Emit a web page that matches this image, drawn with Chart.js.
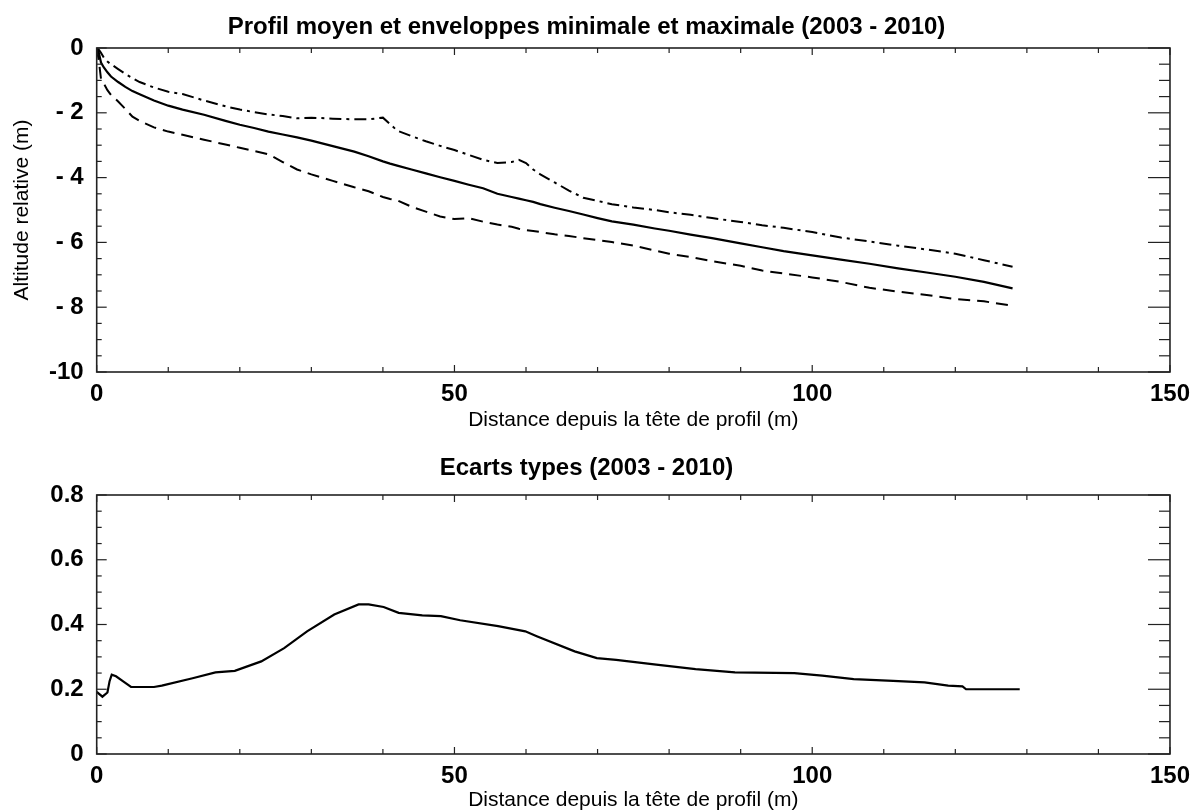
<!DOCTYPE html>
<html>
<head>
<meta charset="utf-8">
<script src="https://cdn.jsdelivr.net/npm/chart.js@4/dist/chart.umd.min.js"></script>
<style>
  html, body { margin: 0; padding: 0; background: #fff; }
  canvas { display: block; }
</style>
</head>
<body>
<canvas id="profil" width="1198" height="444"></canvas>
<canvas id="ecarts" width="1198" height="368"></canvas>
<script>
// distances (m) le long du profil
const distances = [0, 0.3, 0.6, 1, 1.5, 2, 3, 4, 5, 6, 8, 10, 12, 15, 18, 20, 22, 24, 26, 28,
  30, 33, 36, 38, 40, 41, 42, 44, 46, 48, 50, 52, 54, 56, 58, 59, 60, 61, 62, 64,
  66, 68, 70, 72, 75, 78, 80, 83, 86, 90, 93, 96, 100, 104, 108, 112, 116, 120, 124, 128];

// profil moyen (trait plein)
const profilMoyen = [0, -0.15, -0.45, -0.6, -0.75, -0.88, -1.05, -1.2, -1.33, -1.43, -1.62, -1.78, -1.9, -2.06, -2.25, -2.37, -2.47, -2.58, -2.67, -2.76,
  -2.86, -3.03, -3.2, -3.34, -3.5, -3.57, -3.63, -3.75, -3.87, -3.99, -4.1, -4.22, -4.33, -4.5, -4.6, -4.65, -4.7, -4.75, -4.82, -4.93,
  -5.03, -5.14, -5.25, -5.35, -5.45, -5.57, -5.64, -5.76, -5.87, -6.03, -6.15, -6.27, -6.4, -6.53, -6.66, -6.8, -6.93, -7.06, -7.22, -7.42];

// enveloppe maximale (tiret-point)
const enveloppeMax = [0, -0.05, -0.15, -0.3, -0.42, -0.5, -0.65, -0.8, -0.93, -1.05, -1.22, -1.35, -1.42, -1.62, -1.8, -1.9, -1.98, -2.05, -2.1, -2.17,
  -2.15, -2.18, -2.2, -2.2, -2.15, -2.35, -2.55, -2.72, -2.88, -3.02, -3.15, -3.3, -3.45, -3.55, -3.52, -3.45, -3.55, -3.75, -3.9, -4.15,
  -4.4, -4.62, -4.72, -4.82, -4.92, -5.0, -5.07, -5.15, -5.25, -5.37, -5.47, -5.55, -5.68, -5.85, -5.97, -6.1, -6.22, -6.35, -6.55, -6.75];

// enveloppe minimale (tirets)
const enveloppeMin = [0, -0.4, -0.95, -1.1, -1.3, -1.45, -1.65, -1.88, -2.12, -2.25, -2.45, -2.58, -2.68, -2.83, -2.98, -3.08, -3.18, -3.28, -3.52, -3.75,
  -3.9, -4.1, -4.3, -4.42, -4.6, -4.66, -4.7, -4.9, -5.05, -5.2, -5.28, -5.25, -5.36, -5.45, -5.52, -5.58, -5.62, -5.65, -5.68, -5.75,
  -5.8, -5.87, -5.93, -5.99, -6.1, -6.25, -6.35, -6.45, -6.58, -6.72, -6.87, -6.96, -7.08, -7.22, -7.4, -7.52, -7.62, -7.75, -7.82, -7.95];

// écarts types
const distancesEcart = [0, 0.8, 1.5, 1.8, 2.1, 2.7, 3.7, 4.8, 8, 9.1, 13.4, 16.6, 19.3, 23, 26.2, 29.4, 33.2, 36.6, 38, 40.1,
  42.2, 45.5, 48.1, 50.8, 56.1, 59.9, 61.5, 66.8, 69.9, 72.6, 78.2, 83.7, 89.2, 97.5, 101.4, 105.8, 111.3, 115.7, 119, 121, 121.5, 129];
const ecartsTypes = [0.192, 0.177, 0.19, 0.225, 0.245, 0.24, 0.224, 0.207, 0.207, 0.211, 0.234, 0.252, 0.257, 0.286, 0.327, 0.379, 0.431, 0.462, 0.462, 0.454,
  0.436, 0.428, 0.426, 0.413, 0.395, 0.379, 0.364, 0.317, 0.296, 0.291, 0.276, 0.262, 0.252, 0.25, 0.242, 0.231, 0.226, 0.221, 0.211, 0.209, 0.2, 0.2];

// graduations
const distTicks = [0, 50, 100, 150];
const distLabels = ['0', '50', '100', '150'];
const altTicks = [0, -2, -4, -6, -8, -10];
const altLabels = ['0', '- 2', '- 4', '- 6', '- 8', '-10'];
const ecartTicks = [0, 0.2, 0.4, 0.6, 0.8];
const ecartLabels = ['0', '0.2', '0.4', '0.6', '0.8'];

const FONT = '"Liberation Sans", Arial, sans-serif';

function pts(xs, ys) {
  return xs.map((x, i) => ({x: x, y: ys[i]}));
}

function labelFor(values, labels) {
  return v => {
    const i = values.findIndex(t => Math.abs(t - v) < 1e-6);
    return i >= 0 ? labels[i] : '';
  };
}

// cadre et graduations tournées vers l'intérieur
const cadre = {
  id: 'cadre',
  afterDraw(chart, args, opts) {
    const {ctx, chartArea: a, scales: {x, y}} = chart;
    const seg = (x1, y1, x2, y2) => { ctx.beginPath(); ctx.moveTo(x1, y1); ctx.lineTo(x2, y2); ctx.stroke(); };
    ctx.save();
    ctx.strokeStyle = '#222';
    ctx.lineWidth = 1.2;
    x.ticks.forEach(t => {
      const px = x.getPixelForValue(t.value);
      const len = Math.abs(t.value % 50) < 1e-6 ? 7 : 5;
      seg(px, a.top, px, a.top + len);
      seg(px, a.bottom, px, a.bottom - len);
    });
    y.ticks.forEach(t => {
      const py = y.getPixelForValue(t.value);
      const r = t.value / opts.major;
      const major = Math.abs(r - Math.round(r)) < 1e-6;
      seg(a.left, py, a.left + (major ? 10 : 5), py);
      seg(a.right, py, a.right - (major ? 22 : 11), py);
    });
    ctx.lineWidth = 1.6;
    ctx.strokeRect(a.left, a.top, a.right - a.left, a.bottom - a.top);
    ctx.restore();
  }
};

function xAxis(height, labelPad, titleBottom) {
  return {
    type: 'linear', min: 0, max: 150,
    afterFit: s => { s.height = height; },
    grid: {display: false, drawTicks: false},
    border: {display: false},
    ticks: {
      stepSize: 10, autoSkip: false, maxRotation: 0, padding: labelPad,
      color: '#000', font: {family: FONT, size: 24, weight: 'bold'},
      callback: labelFor(distTicks, distLabels)
    },
    title: {
      display: true, text: 'Distance depuis la tête de profil (m)', color: '#000',
      font: {family: FONT, size: 21, lineHeight: 1.1},
      padding: {top: 0, bottom: titleBottom}
    }
  };
}

function titre(text, top, bottom) {
  return {
    display: true, text: text, color: '#000',
    font: {family: FONT, size: 24, weight: 'bold', lineHeight: 1.2},
    padding: {top: top, bottom: bottom}
  };
}

Chart.defaults.animation = false;

new Chart(document.getElementById('profil'), {
  type: 'line',
  data: {
    datasets: [
      {label: 'Profil moyen', data: pts(distances, profilMoyen), borderColor: '#000', borderWidth: 2.2},
      {label: 'Enveloppe maximale', data: pts(distances, enveloppeMax), borderColor: '#000', borderWidth: 2, borderDash: [12, 5, 3, 5]},
      {label: 'Enveloppe minimale', data: pts(distances, enveloppeMin), borderColor: '#000', borderWidth: 2, borderDash: [12, 7]}
    ]
  },
  options: {
    responsive: false,
    layout: {padding: {left: 0, right: 25, top: 0, bottom: 0}},
    elements: {point: {radius: 0}, line: {tension: 0}},
    scales: {
      x: xAxis(72, 8, 12.4),
      y: {
        type: 'linear', min: -10, max: 0,
        afterFit: s => { s.width = 96.7; },
        grid: {display: false, drawTicks: false},
        border: {display: false},
        ticks: {
          stepSize: 0.5, autoSkip: false, padding: 13,
          color: '#000', font: {family: FONT, size: 24, weight: 'bold'},
          callback: labelFor(altTicks, altLabels)
        },
        title: {
          display: true, text: 'Altitude relative (m)', color: '#000',
          font: {family: FONT, size: 21, lineHeight: 1.1},
          padding: {top: 10.4, bottom: 0}
        }
      }
    },
    plugins: {
      legend: {display: false},
      tooltip: {enabled: false},
      title: titre('Profil moyen et enveloppes minimale et maximale (2003 - 2010)', 12.6, 6.6),
      cadre: {major: 2}
    }
  },
  plugins: [cadre]
});

new Chart(document.getElementById('ecarts'), {
  type: 'line',
  data: {
    datasets: [
      {label: 'Ecart type', data: pts(distancesEcart, ecartsTypes), borderColor: '#000', borderWidth: 2.2}
    ]
  },
  options: {
    responsive: false,
    layout: {padding: {left: 0, right: 25, top: 0, bottom: 0}},
    elements: {point: {radius: 0}, line: {tension: 0}},
    scales: {
      x: xAxis(58, 8, 0.5),
      y: {
        type: 'linear', min: 0, max: 0.8,
        afterFit: s => { s.width = 96.7; },
        grid: {display: false, drawTicks: false},
        border: {display: false},
        ticks: {
          stepSize: 0.05, autoSkip: false, padding: 13,
          color: '#000', font: {family: FONT, size: 24, weight: 'bold'},
          callback: labelFor(ecartTicks, ecartLabels)
        }
      }
    },
    plugins: {
      legend: {display: false},
      tooltip: {enabled: false},
      title: titre('Ecarts types (2003 - 2010)', 9.6, 12.6),
      cadre: {major: 0.2}
    }
  },
  plugins: [cadre]
});
</script>
</body>
</html>
